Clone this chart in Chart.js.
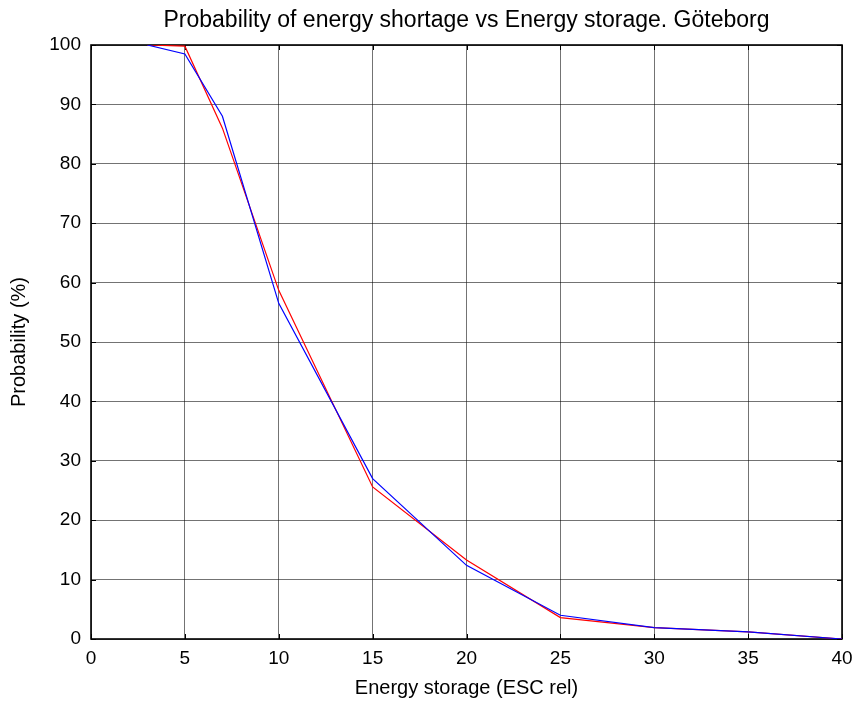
<!DOCTYPE html>
<html>
<head>
<meta charset="utf-8">
<script src="https://cdn.jsdelivr.net/npm/chart.js@4/dist/chart.umd.min.js"></script>
<style>
  html, body { margin: 0; padding: 0; background: #ffffff; }
  #wrap { width: 857px; height: 703px; }
</style>
</head>
<body>
<div id="wrap"><canvas id="c" width="857" height="703"></canvas></div>
<script>
// Energy storage levels (ESC rel) at which the shortage probability was evaluated
const storage = [3, 5, 7, 10, 15, 20, 25, 30, 35, 40];
// Probability of energy shortage (%) for the two computed cases
const probBlue = [100, 98.5, 88, 56.5, 27, 12.4, 4.0, 1.9, 1.2, 0];
const probRed  = [100, 99.8, 86, 58.7, 25.6, 13.3, 3.6, 1.9, 1.2, 0];
// Axis tick values
const xTicks = [0, 5, 10, 15, 20, 25, 30, 35, 40];
const yTicks = [0, 10, 20, 30, 40, 50, 60, 70, 80, 90, 100];
const chartTitle = 'Probability of energy shortage vs Energy storage. Göteborg';

const FONT = "'Liberation Sans', Arial, Helvetica, sans-serif";

const toPoints = (xs, ys) => xs.map((x, i) => ({ x: x, y: ys[i] }));

// Box around the plot with inward tick marks on all four sides,
// plus the title centred over the plot area
const boxAxes = {
  id: 'boxAxes',
  beforeDatasetsDraw(chart) {
    const { ctx, chartArea: a, scales } = chart;
    const len = 5;
    ctx.save();
    ctx.strokeStyle = '#000';
    ctx.lineWidth = 1;
    ctx.beginPath();
    xTicks.forEach(v => {
      const px = Math.round(scales.x.getPixelForValue(v)) + 0.5;
      ctx.moveTo(px, a.bottom); ctx.lineTo(px, a.bottom - len);
      ctx.moveTo(px, a.top); ctx.lineTo(px, a.top + len);
    });
    yTicks.forEach(v => {
      const py = Math.round(scales.y.getPixelForValue(v)) + 0.5;
      ctx.moveTo(a.left, py); ctx.lineTo(a.left + len, py);
      ctx.moveTo(a.right, py); ctx.lineTo(a.right - len, py);
    });
    ctx.stroke();
    ctx.lineWidth = 1.6;
    ctx.strokeRect(a.left, a.top, a.right - a.left, a.bottom - a.top);

    ctx.fillStyle = '#000';
    ctx.font = '23px ' + FONT;
    ctx.textAlign = 'center';
    ctx.textBaseline = 'middle';
    ctx.fillText(chartTitle, (a.left + a.right) / 2, 21);
    ctx.restore();
  }
};

new Chart(document.getElementById('c'), {
  type: 'line',
  data: {
    datasets: [
      {
        data: toPoints(storage, probBlue),
        borderColor: '#0000ff',
        borderWidth: 1.2,
        pointRadius: 0,
        tension: 0,
        fill: false
      },
      {
        data: toPoints(storage, probRed),
        borderColor: '#ff0000',
        borderWidth: 1.2,
        pointRadius: 0,
        tension: 0,
        fill: false
      }
    ]
  },
  options: {
    responsive: false,
    animation: false,
    layout: { padding: { left: 0, right: 15, top: 45, bottom: 0 } },
    plugins: {
      legend: { display: false },
      tooltip: { enabled: false },
      title: { display: false }
    },
    scales: {
      x: {
        type: 'linear',
        min: 0,
        max: 40,
        afterFit(scale) {
          scale.height = 64;
          scale.paddingLeft = 0;
          scale.paddingRight = 0;
        },
        afterBuildTicks(scale) { scale.ticks = xTicks.map(v => ({ value: v })); },
        grid: { color: 'rgba(0,0,0,0.55)', lineWidth: 1, drawTicks: false },
        border: { display: false },
        ticks: {
          color: '#000',
          font: { family: FONT, size: 19 },
          padding: 8,
          maxRotation: 0
        },
        title: {
          display: true,
          text: 'Energy storage (ESC rel)',
          color: '#000',
          font: { family: FONT, size: 20 },
          padding: { top: 0, bottom: 3 }
        }
      },
      y: {
        type: 'linear',
        min: 0,
        max: 100,
        afterFit(scale) {
          scale.width = 91;
          scale.paddingTop = 0;
          scale.paddingBottom = 0;
        },
        afterBuildTicks(scale) { scale.ticks = yTicks.map(v => ({ value: v })); },
        grid: { color: 'rgba(0,0,0,0.55)', lineWidth: 1, drawTicks: false },
        border: { display: false },
        ticks: {
          color: '#000',
          font: { family: FONT, size: 19 },
          padding: 10
        },
        title: {
          display: true,
          text: 'Probability (%)',
          color: '#000',
          font: { family: FONT, size: 20 },
          padding: { top: 7, bottom: 0 }
        }
      }
    }
  },
  plugins: [boxAxes]
});
</script>
</body>
</html>
